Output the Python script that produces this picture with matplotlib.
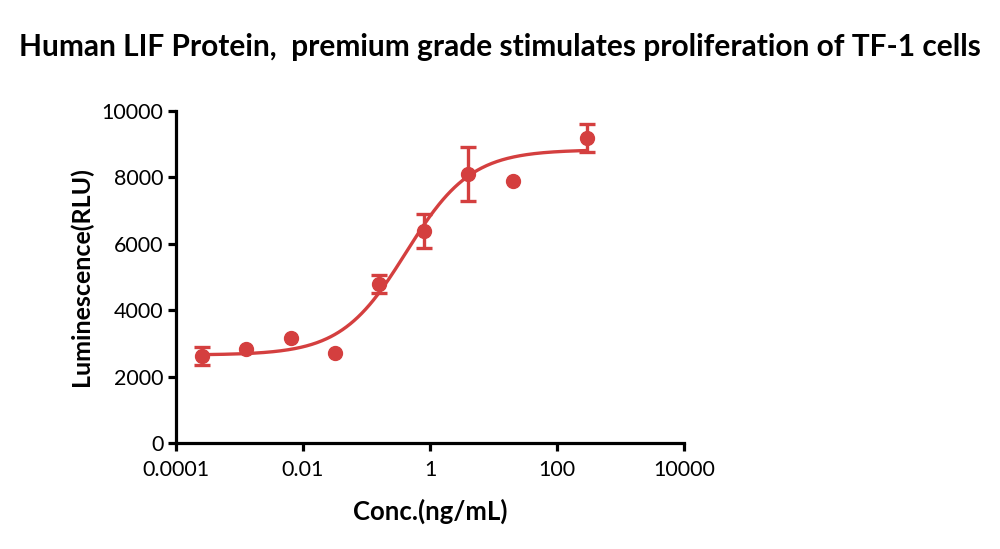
import numpy as np
import matplotlib
matplotlib.use("Agg")
import matplotlib.pyplot as plt

plt.rcParams['font.family'] = ['Lato', 'DejaVu Sans']

# data (ng/mL, RLU)
conc = [0.000256, 0.00128, 0.0064, 0.032, 0.16, 0.8, 4.0, 20.0, 300.0]
rlu = [2620, 2820, 3150, 2720, 4790, 6390, 8100, 7900, 9180]
rlu_sd = [260, 0, 0, 0, 270, 520, 825, 0, 420]

# 4PL fit parameters (bottom, top, EC50, hill)
bottom = 2650
top = 8830
ec50 = 0.42
hill = 0.85

red = '#d43f3f'

fig = plt.figure(figsize=(10, 5.49), dpi=100)
ax = fig.add_axes([0.176, 0.193, 0.508, 0.605])

xfit = np.logspace(np.log10(conc[0]), np.log10(conc[-1]), 300)
yfit = bottom + (top - bottom) / (1 + (ec50 / xfit) ** hill)
ax.plot(xfit, yfit, color=red, linewidth=2.4, zorder=2)

ax.plot(conc, rlu, 'o', color=red, markersize=10, zorder=3)
# error bars only where a spread was shown
idx = [i for i, s in enumerate(rlu_sd) if s > 0]
ax.errorbar([conc[i] for i in idx], [rlu[i] for i in idx], yerr=[rlu_sd[i] for i in idx],
            fmt='none', ecolor=red, elinewidth=2.4, capsize=5.5, capthick=2.4, zorder=3)

ax.set_xscale('log')
ax.set_xlim(1e-4, 1e4)
ax.set_ylim(0, 10000)
ax.set_xticks([1e-4, 1e-2, 1, 1e2, 1e4])
ax.set_xticklabels(['0.0001', '0.01', '1', '100', '10000'])
ax.xaxis.set_minor_locator(matplotlib.ticker.NullLocator())
ax.set_yticks([0, 2000, 4000, 6000, 8000, 10000])

for s in ['top', 'right']:
    ax.spines[s].set_visible(False)
for s in ['left', 'bottom']:
    ax.spines[s].set_linewidth(2.3)
ax.tick_params(axis='both', width=2.3, length=6, labelsize=15.5, direction='out', pad=3)
ax.tick_params(axis='x', pad=6)

ax.set_xlabel('Conc.(ng/mL)', fontsize=18.5, fontweight='bold', labelpad=14)
ax.set_ylabel('Luminescence(RLU)', fontsize=18, fontweight='bold', labelpad=6)

fig.text(0.5, 0.915, 'Human LIF Protein,  premium grade stimulates proliferation of TF-1 cells',
         ha='center', va='center', fontsize=21.5, fontweight='bold')

fig.savefig('out.png', dpi=100)
